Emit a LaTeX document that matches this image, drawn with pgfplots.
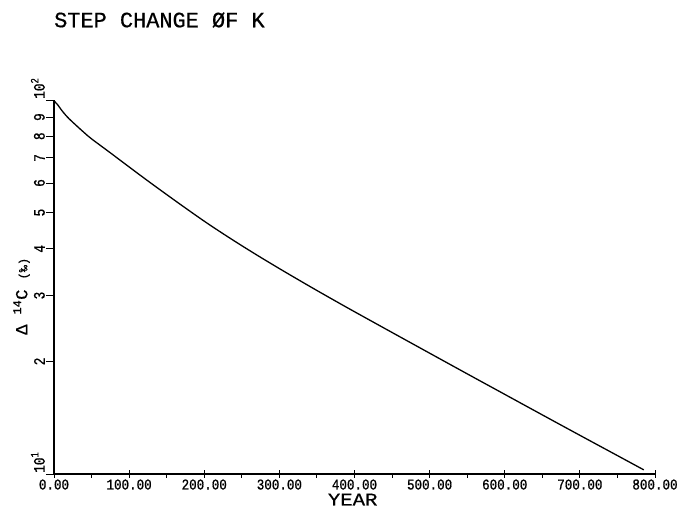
\documentclass[border=0pt]{standalone}
\usepackage{fontspec}
\setmainfont{Liberation Mono}[FakeBold=0.6]
\newfontfamily\tickfont[FakeStretch=0.8,FakeBold=0.8]{Liberation Mono}
\newfontfamily\xtickfont[FakeStretch=0.84,FakeBold=0.8]{Liberation Mono}
\newfontfamily\labfont[FakeStretch=1.15,FakeBold=0.6]{Liberation Mono}
\usepackage{pgfplots}
\pgfplotsset{compat=1.18}
\begin{document}
\begin{tikzpicture}
\path[use as bounding box] (-54bp,-37bp) rectangle (634bp,474bp);
\begin{axis}[
  at={(0,0)}, anchor=south west,
  scale only axis, width=601bp, height=374bp,
  xmin=0, xmax=800, ymode=log, ymin=10, ymax=100,
  axis x line*=bottom, axis y line*=left,
  axis line style={line width=1.1pt},
  every tick/.style={line width=0.9pt, black},
  /pgf/number format/assume math mode=true,
  xtick={0,100,200,300,400,500,600,700,800},
  xtick align=center, major tick length=8bp,
  ytick align=outside,
  xticklabel={\pgfmathprintnumber[fixed,fixed zerofill,precision=2]{\tick}},
  xticklabel style={font=\xtickfont\fontsize{15}{15}\selectfont, anchor=base, inner sep=0pt, yshift=-11.5bp},
  ytick={20,30,40,50,60,70,80,90},
  yticklabels={2,3,4,5,6,7,8,9},
  yminorticks=false, xminorticks=false,
  yticklabel style={font=\tickfont\fontsize{16}{16}\selectfont, rotate=90, anchor=south, inner sep=1bp},
  extra y ticks={10,100},
  extra y tick labels={10\textsuperscript{1},10\textsuperscript{2}},
  extra y tick style={yticklabel style={anchor=south west}},
  extra x ticks={50,150,250,350,450,550,650,750},
  extra x tick labels={},
  extra x tick style={tick align=outside, major tick length=4bp},
  title={STEP CHANGE ØF K},
  title style={at={(axis description cs:0,1)}, anchor=west, inner sep=0pt, yshift=74bp, font=\fontsize{22}{22}\selectfont},
  xlabel={YEAR},
  xlabel style={at={(axis description cs:0.497,0)}, anchor=base, inner sep=0pt, yshift=-31.5bp, font=\labfont\fontsize{18}{18}\selectfont},
  ylabel={Δ \textsuperscript{14}C {\fontsize{12}{12}\selectfont(‰)}},
  ylabel style={at={(axis description cs:0,0.475)}, anchor=south, inner sep=0pt, yshift=24bp, font=\fontsize{17}{17}\selectfont},
]
\addplot[black, line width=1.3pt, smooth] coordinates {
(0,99.48) (5,97.03) (10,93.97) (15,91.37) (20,89.12) (30,85.35) (40,81.86)
(50,78.73) (75,72.24) (100,66.22) (125,60.76) (150,55.86) (175,51.42)
(200,47.42) (225,43.91) (250,40.78) (275,37.97) (300,35.42) (325,33.09)
(350,30.95) (375,28.98) (400,27.16) (450,23.90) (500,21.04) (550,18.53)
(600,16.33) (650,14.39) (700,12.69) (750,11.20) (785,10.26)
};
\end{axis}
\end{tikzpicture}
\end{document}
